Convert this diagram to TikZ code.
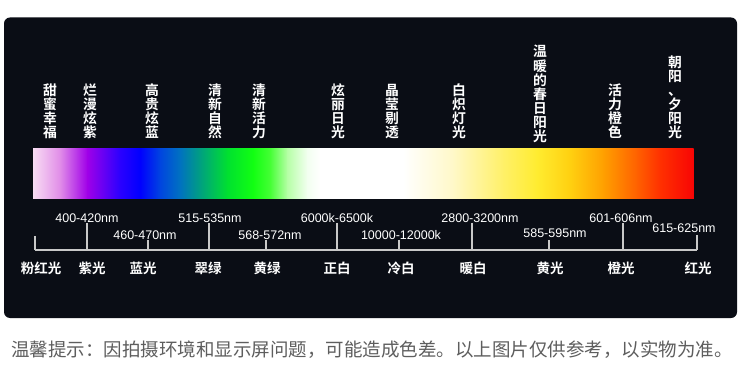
\documentclass[tikz,border=0pt]{standalone}
\usepackage{fontspec}
\setmainfont{Liberation Sans}
\newfontfamily\cjk{Noto Sans CJK SC}[BoldFont={Noto Sans CJK SC Bold}]
\definecolor{panelc}{HTML}{0A0D15}
\definecolor{tickc}{HTML}{C8C8C8}
\definecolor{footc}{HTML}{5E5E5E}
\tikzset{
  vlab/.style={font=\cjk\bfseries\fontsize{13.8}{14.1}\selectfont, text=white, align=center, inner sep=0pt, anchor=south},
  blab/.style={font=\cjk\bfseries\fontsize{13.5}{14}\selectfont, text=white, inner sep=0pt, anchor=center},
  nlab/.style={font=\fontsize{12.5}{14}\selectfont, text=white, inner sep=0pt, anchor=center},
  tickline/.style={draw=tickc, line width=1.8pt},
}
\begin{document}
\begin{tikzpicture}[x=1pt,y=-1pt]
\useasboundingbox (0,0) rectangle (749,371);
\fill[white] (0,0) rectangle (749,371);
\fill[panelc, rounded corners=6pt] (4,17.5) rectangle (737,318);

% spectrum bar
\def\seg#1#2#3#4{\shade[left color=#3, right color=#4] (#1,149) rectangle (#2,199);}
\definecolor{s0}{HTML}{F8DDF3}
\definecolor{s1}{HTML}{E08CE8}
\definecolor{s2}{HTML}{A000E8}
\definecolor{s3}{HTML}{2A00FF}
\definecolor{s4}{HTML}{0000FF}
\definecolor{s5}{HTML}{0045E0}
\definecolor{s6}{HTML}{0072C0}
\definecolor{s7}{HTML}{00A080}
\definecolor{s8}{HTML}{00E030}
\definecolor{s9}{HTML}{12FF12}
\definecolor{s10}{HTML}{45FF35}
\definecolor{s11}{HTML}{B5FFA5}
\definecolor{s12}{HTML}{F2FFF0}
\definecolor{s13}{HTML}{FFFFFF}
\definecolor{s14}{HTML}{FFFFFF}
\definecolor{s15}{HTML}{FFF8C8}
\definecolor{s16}{HTML}{FFF068}
\definecolor{s17}{HTML}{FFEC30}
\definecolor{s18}{HTML}{FFD010}
\definecolor{s19}{HTML}{FFA000}
\definecolor{s20}{HTML}{FF6000}
\definecolor{s21}{HTML}{FF3000}
\definecolor{s22}{HTML}{F80505}
\seg{33}{60.5}{s0}{s1}
\seg{60}{87.5}{s1}{s2}
\seg{87}{120.5}{s2}{s3}
\seg{120}{140.5}{s3}{s4}
\seg{140}{160.5}{s4}{s5}
\seg{160}{180.5}{s5}{s6}
\seg{180}{200.5}{s6}{s7}
\seg{200}{227.5}{s7}{s8}
\seg{227}{253.5}{s8}{s9}
\seg{253}{270.5}{s9}{s10}
\seg{270}{287.5}{s10}{s11}
\seg{287}{307.5}{s11}{s12}
\seg{307}{320.5}{s12}{s13}
\seg{320}{403.5}{s13}{s14}
\seg{403}{453.5}{s14}{s15}
\seg{453}{503.5}{s15}{s16}
\seg{503}{537.5}{s16}{s17}
\seg{537}{570.5}{s17}{s18}
\seg{570}{603.5}{s18}{s19}
\seg{603}{637.5}{s19}{s20}
\seg{637}{660.5}{s20}{s21}
\seg{660}{693.5}{s21}{s22}
\fill[s22] (693,149) rectangle (694,199);

% vertical labels
\node[vlab] (v1) at (50,139) {甜\\蜜\\幸\\福};
\node[vlab] (v2) at (90,139) {烂\\漫\\炫\\紫};
\node[vlab] (v3) at (152,139) {高\\贵\\炫\\蓝};
\node[vlab] (v4) at (215,139) {清\\新\\自\\然};
\node[vlab] (v5) at (259,139) {清\\新\\活\\力};
\node[vlab] (v6) at (338,139) {炫\\丽\\日\\光};
\node[vlab] (v7) at (392,139) {晶\\莹\\剔\\透};
\node[vlab] (v8) at (459,139) {白\\炽\\灯\\光};
\node[vlab] (v9) at (540,143) {温\\暖\\的\\春\\日\\阳\\光};
\node[vlab] (v10) at (615,139) {活\\力\\橙\\色};
\node[vlab] (v11) at (675,139) {朝\\阳\\、\\夕\\阳\\光};

% scale
\coordinate (b0) at (35,250);
\coordinate (b11) at (697,250);
\draw[tickline] (b0) -- (b11);
\coordinate (k1) at (35,236);
\coordinate (k2) at (87,223);
\coordinate (k3) at (148,240);
\coordinate (k4) at (209,223);
\coordinate (k5) at (266,240);
\coordinate (k6) at (337,223);
\coordinate (k7) at (399,240);
\coordinate (k8) at (472,223);
\coordinate (k9) at (549,240);
\coordinate (k10) at (623,223);
\coordinate (k11) at (697,235);
\foreach \i in {1,...,11} {
  \draw[tickline] (k\i) -- (k\i |- b0);
}

% numeric labels
\node[nlab] (n2) at (87,218) {400-420nm};
\node[nlab] (n3) at (145,235) {460-470nm};
\node[nlab] (n4) at (210,218) {515-535nm};
\node[nlab] (n5) at (270,235) {568-572nm};
\node[nlab] (n6) at (337,218) {6000k-6500k};
\node[nlab] (n7) at (401,235) {10000-12000k};
\node[nlab] (n8) at (480,218) {2800-3200nm};
\node[nlab] (n9) at (555,233) {585-595nm};
\node[nlab] (n10) at (621,218) {601-606nm};
\node[nlab] (n11) at (684,228) {615-625nm};

% bottom labels
\node[blab] (c1) at (41,268) {粉红光};
\node[blab] (c2) at (92,268) {紫光};
\node[blab] (c3) at (143,268) {蓝光};
\node[blab] (c4) at (208,268) {翠绿};
\node[blab] (c5) at (267,268) {黄绿};
\node[blab] (c6) at (337,268) {正白};
\node[blab] (c7) at (401,268) {冷白};
\node[blab] (c8) at (473,268) {暖白};
\node[blab] (c9) at (550,268) {黄光};
\node[blab] (c10) at (621,268) {橙光};
\node[blab] (c11) at (698,268) {红光};

% footer
\node[font=\cjk\fontsize{18.5}{20}\selectfont, text=footc, inner sep=0pt, anchor=west] (foot) at (11,350)
  {温馨提示：因拍摄环境和显示屏问题，可能造成色差。以上图片仅供参考，以实物为准。};
\end{tikzpicture}
\end{document}
